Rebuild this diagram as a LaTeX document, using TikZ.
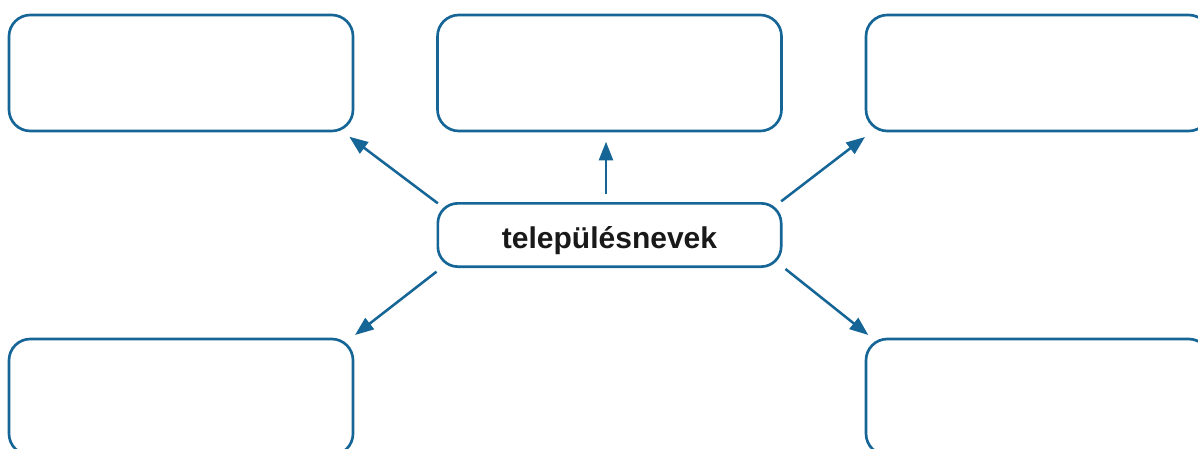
\documentclass[tikz,border=0pt]{standalone}
\usepackage{fontspec}
\setmainfont{Liberation Sans}
\usetikzlibrary{arrows.meta,calc}
\definecolor{mapblue}{RGB}{21,101,150}
\tikzset{
  box/.style={draw=mapblue, line width=2.0pt, rounded corners=16pt, rectangle,
    minimum width=258pt, minimum height=87pt, outer sep=0pt, inner sep=0pt},
  centerbox/.style={draw=mapblue, line width=2.0pt, rounded corners=15pt, rectangle,
    minimum width=257.5pt, minimum height=47.5pt, outer sep=0pt, inner sep=0pt,
    text height=21pt, text depth=1.5pt,
    font=\fontsize{22.5}{26}\selectfont\bfseries, text=black!90},
  conn/.style={draw=mapblue, line width=1.9pt, -{Triangle[length=14pt,width=10.5pt]}}
}
\begin{document}
\begin{tikzpicture}[x=0.75pt,y=-0.75pt]
\path[use as bounding box] (0,0) rectangle (1198,449);
\clip (0,0) rectangle (1198,449);
\node[box] (tl) at (181,73) {};
\node[box] (tm) at (609.5,73) {};
\node[box] (tr) at (1038,73) {};
\node[box] (bl) at (181,397) {};
\node[box] (br) at (1038,397) {};
\node[centerbox] (c) at (609.5,235) {településnevek};
\draw[conn] ($(c.north)+(-3.5,-9)$) -- ($(tm.south)+(-3.5,10.7)$);
\draw[conn] ($(c.north west)+(0,0)$) -- ($(tl.south east)+(-3.7,5.7)$);
\draw[conn] ($(c.north east)+(0,-2)$) -- ($(tr.south west)+(-1,6)$);
\draw[conn] ($(c.south west)+(-1.3,5)$) -- ($(bl.north east)+(2,-4)$);
\draw[conn] ($(c.south east)+(4.3,2.3)$) -- ($(br.north west)+(2.3,-4)$);
\end{tikzpicture}
\end{document}
